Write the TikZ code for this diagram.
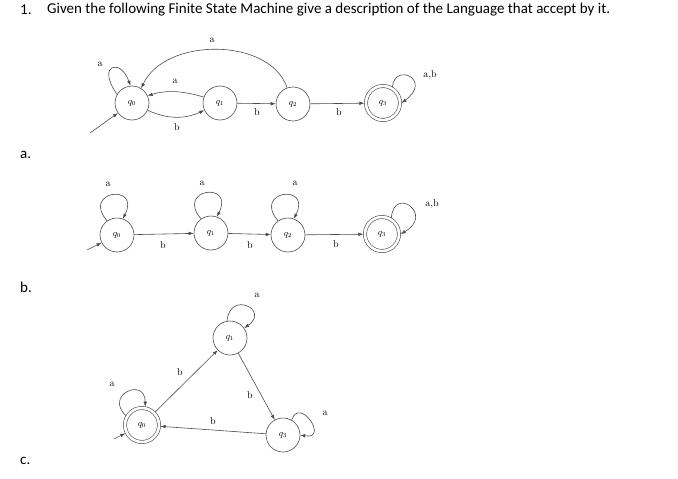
\documentclass[tikz,border=0pt]{standalone}
\usepackage{fontspec}
\newfontfamily\calib{Carlito}
\usetikzlibrary{arrows.meta}
\begin{document}
\begin{tikzpicture}[x=1pt,y=-1pt,
  st/.style={circle,draw=black!70,line width=0.6pt,minimum size=34pt,inner sep=0pt,font=\small},
  acc/.style={st,double,double distance=2.6pt,outer sep=1.6pt},
  ed/.style={draw=black!70,line width=0.6pt,-{Latex[length=5pt,width=3.6pt]}},
  lb/.style={font=\normalsize,inner sep=1pt},
  tt/.style={anchor=west,inner sep=0pt,font=\calib\fontsize{15}{18}\selectfont}]
\useasboundingbox (0,0) rectangle (678,479);
% title and item labels
\node[tt] (num) at (20,10) {1.};
\node[tt] (title) at (47,10) {Given the following Finite State Machine give a description of the Language that accept by it.};
\node[tt] (la) at (20,155) {a.};
\node[tt] (lbb) at (20,287) {b.};
\node[tt] (lc) at (20,461) {c.};

% ---------------- a ----------------
\node[st] (a0) at (132,103) {$q_0$};
\node[st] (a1) at (220,103) {$q_1$};
\node[st] (a2) at (293,104) {$q_2$};
\node[acc] (a3) at (383,103) {$q_3$};
\coordinate (ai) at (90,133);
\draw[ed] (ai) -- (a0);
\draw[ed] (a0.150) .. controls +(-21,-30) and +(-10,-28) .. (a0.95);
\node[lb] (la0) at (100,64) {a};
\draw[ed] (a0.-25) .. controls +(20,9) and +(-20,9) .. (a1.-155);
\node[lb] (lab) at (177,127) {b};
\draw[ed] (a1.160) .. controls +(-20,-6) and +(20,-6) .. (a0.25);
\node[lb] (laa) at (175,81) {a};
\draw[ed] (a1) -- (a2);
\node[lb] (la12) at (257,112) {b};
\draw[ed] (a2.110) .. controls (270,37) and (165,37) .. (a0.58);
\node[lb] (la20) at (212,40) {a};
\draw[ed] (a2) -- (a3);
\node[lb] (la23) at (339,112) {b};
\draw[ed] (a3.60) .. controls +(3,-25) and +(31,-23) .. (a3.east);
\node[lb] (la3) at (430,75) {a,b};

% ---------------- b ----------------
\node[st] (b0) at (117,235) {$q_0$};
\node[st] (b1) at (211,233) {$q_1$};
\node[st] (b2) at (288,235) {$q_2$};
\node[acc] (b3) at (382,234) {$q_3$};
\coordinate (bi) at (87,250);
\draw[ed] (bi) -- (b0);
\draw[ed] (b0.125) .. controls +(-26,-30) and +(18,-36) .. (b0.70);
\draw[ed] (b1.125) .. controls +(-26,-30) and +(18,-36) .. (b1.70);
\draw[ed] (b2.125) .. controls +(-26,-30) and +(18,-36) .. (b2.70);
\node[lb] (lb0) at (108,184) {a};
\node[lb] (lb1) at (202,183) {a};
\node[lb] (lb2) at (295,183) {a};
\draw[ed] (b0) -- (b1);
\draw[ed] (b1) -- (b2);
\draw[ed] (b2) -- (b3);
\node[lb] (lb01) at (163,245) {b};
\node[lb] (lb12) at (250,245) {b};
\node[lb] (lb23) at (336,244) {b};
\draw[ed] (b3.60) .. controls +(3,-33) and +(34,-19) .. (b3.east);
\node[lb] (lb3) at (432,204) {a,b};

% ---------------- c ----------------
\node[acc] (c0) at (142,425) {$q_0$};
\node[st] (c1) at (230,338) {$q_1$};
\node[st] (c3) at (283,435) {$q_3$};
\coordinate (ci) at (114,439);
\draw[ed] (ci) -- (c0);
\draw[ed] (c0.150) .. controls +(-22,-21) and +(0,-30) .. (c0.80);
\node[lb] (lc0) at (112,384) {a};
\draw[ed] (c1.100) .. controls +(3,-31) and +(26,-18) .. (c1.35);
\node[lb] (lc1) at (257,295) {a};
\draw[ed] (c3.60) .. controls +(8,-24) and +(29,5) .. (c3.east);
\node[lb] (lc3) at (325,413) {a};
\draw[ed] (c0) -- (c1);
\node[lb] (lc01) at (180,372) {b};
\draw[ed] (c1) -- (c3);
\node[lb] (lc13) at (250,395) {b};
\draw[ed] (c3) -- (c0);
\node[lb] (lc30) at (213,421) {b};
\end{tikzpicture}
\end{document}
